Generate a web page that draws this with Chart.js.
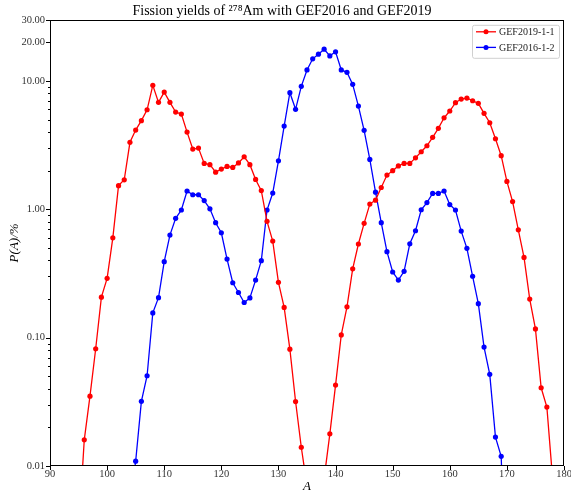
<!DOCTYPE html>
<html>
<head>
<meta charset="utf-8">
<script src="https://cdn.jsdelivr.net/npm/chart.js@4.4.0/dist/chart.umd.min.js"></script>
<style>
  html, body { margin: 0; padding: 0; background: #fff; }
  #wrap { width: 571px; height: 493px; }
</style>
</head>
<body>
<div id="wrap"><canvas id="yieldChart" width="571" height="493"></canvas></div>
<script>
// mass numbers and yields (%)
var massA2019 = [95, 96, 97, 98, 99, 100, 101, 102, 103, 104, 105, 106, 107, 108, 109, 110, 111, 112, 113, 114,
    115, 116, 117, 118, 119, 120, 121, 122, 123, 124, 125, 126, 127, 128, 129, 130, 131, 132, 133, 134,
    135, 136, 137, 138, 139, 140, 141, 142, 143, 144, 145, 146, 147, 148, 149, 150, 151, 152, 153, 154,
    155, 156, 157, 158, 159, 160, 161, 162, 163, 164, 165, 166, 167, 168, 169, 170, 171, 172, 173, 174,
    175, 176, 177, 178];
var yield2019 = [0.003, 0.016, 0.035, 0.082, 0.207, 0.290, 0.60, 1.53, 1.70, 3.33, 4.15, 4.91, 5.97, 9.26, 6.82, 8.20, 6.82, 5.73, 5.53, 4.00,
    2.95, 3.00, 2.28, 2.23, 1.95, 2.06, 2.16, 2.12, 2.30, 2.57, 2.23, 1.71, 1.40, 0.806, 0.566, 0.270, 0.172, 0.0814, 0.0318, 0.0140,
    0.007, 0.004, 0.004, 0.008, 0.0178, 0.0427, 0.105, 0.174, 0.344, 0.537, 0.778, 1.10, 1.18, 1.48, 1.85, 2.00, 2.18, 2.28, 2.28, 2.52,
    2.81, 3.13, 3.64, 4.28, 5.17, 5.84, 6.78, 7.24, 7.37, 7.02, 6.70, 5.60, 4.73, 3.55, 2.62, 1.65, 1.15, 0.693, 0.422, 0.200,
    0.117, 0.0407, 0.0288, 0.008];

var massA2016 = [104, 105, 106, 107, 108, 109, 110, 111, 112, 113, 114, 115, 116, 117, 118, 119, 120, 121, 122, 123,
    124, 125, 126, 127, 128, 129, 130, 131, 132, 133, 134, 135, 136, 137, 138, 139, 140, 141, 142, 143,
    144, 145, 146, 147, 148, 149, 150, 151, 152, 153, 154, 155, 156, 157, 158, 159, 160, 161, 162, 163,
    164, 165, 166, 167, 168, 169, 170];
var yield2016 = [0.005, 0.0109, 0.0319, 0.0505, 0.156, 0.205, 0.391, 0.630, 0.851, 0.988, 1.39, 1.30, 1.30, 1.17, 1.01, 0.787, 0.657, 0.410, 0.268, 0.225,
    0.188, 0.204, 0.281, 0.398, 0.988, 1.34, 2.39, 4.46, 8.11, 6.02, 9.09, 12.2, 14.9, 16.2, 17.7, 15.7, 16.9, 12.2, 11.7, 9.42,
    6.38, 4.13, 2.45, 1.36, 0.787, 0.468, 0.325, 0.281, 0.329, 0.539, 0.681, 0.993, 1.13, 1.33, 1.33, 1.39, 1.09, 0.988, 0.677, 0.497,
    0.301, 0.184, 0.0845, 0.0518, 0.0168, 0.0119, 0.0007];

var seriesLabels = ["GEF2019-1-1", "GEF2016-1-2"];
var xTicks = [90, 100, 110, 120, 130, 140, 150, 160, 170, 180];
var yLabelled = [0.01, 0.1, 1, 10, 20, 30];
var yTickValues = [0.01, 0.02, 0.03, 0.04, 0.05, 0.06, 0.07, 0.08, 0.09,
    0.1, 0.2, 0.3, 0.4, 0.5, 0.6, 0.7, 0.8, 0.9,
    1, 2, 3, 4, 5, 6, 7, 8, 9, 10, 20, 30];

var serif = "'Liberation Serif', 'DejaVu Serif', serif";

function toPoints(xs, ys) {
    return xs.map(function (x, i) { return { x: x, y: ys[i] }; });
}

function isLabelled(v) {
    return yLabelled.some(function (l) { return Math.abs(l - v) < 1e-9; });
}

// frame, outward tick marks and the boxed legend
var decorations = {
    id: 'decorations',
    afterDraw: function (chart) {
        var ctx = chart.ctx;
        var a = chart.chartArea;
        var xs = chart.scales.x, ys = chart.scales.y;
        ctx.save();
        ctx.strokeStyle = '#000';
        ctx.lineWidth = 1;
        ctx.strokeRect(Math.round(a.left) + 0.5, Math.round(a.top) + 0.5,
            Math.round(a.right - a.left) - 1, Math.round(a.bottom - a.top) - 1);

        ctx.beginPath();
        ys.ticks.forEach(function (t) {
            var py = Math.round(ys.getPixelForValue(t.value)) + 0.5;
            var len = isLabelled(t.value) ? 4 : 2;
            ctx.moveTo(a.left, py);
            ctx.lineTo(a.left - len, py);
        });
        xs.ticks.forEach(function (t) {
            var px = Math.round(xs.getPixelForValue(t.value)) + 0.5;
            ctx.moveTo(px, a.bottom);
            ctx.lineTo(px, a.bottom + 4);
        });
        ctx.stroke();

        // legend box
        var bx = a.right - 92, by = a.top + 5, bw = 87, bh = 33;
        ctx.fillStyle = 'rgba(255,255,255,0.8)';
        ctx.strokeStyle = '#d0d0d0';
        ctx.beginPath();
        ctx.roundRect(bx + 0.5, by + 0.5, bw, bh, 2);
        ctx.fill();
        ctx.stroke();
        ctx.font = '10px ' + serif;
        ctx.textBaseline = 'middle';
        ctx.textAlign = 'left';
        chart.data.datasets.forEach(function (ds, i) {
            var ry = by + 7 + i * 15.6;
            ctx.strokeStyle = ds.borderColor;
            ctx.lineWidth = 1.3;
            ctx.beginPath();
            ctx.moveTo(bx + 4, ry);
            ctx.lineTo(bx + 24, ry);
            ctx.stroke();
            ctx.fillStyle = ds.borderColor;
            ctx.beginPath();
            ctx.arc(bx + 14, ry, 2.5, 0, Math.PI * 2);
            ctx.fill();
            ctx.fillStyle = '#222';
            ctx.fillText(ds.label, bx + 27, ry + 0.5);
        });
        ctx.restore();
    }
};

var ctx = document.getElementById('yieldChart').getContext('2d');

var yieldChart = new Chart(ctx, {
    type: 'line',
    data: {
        datasets: [{
            label: seriesLabels[0],
            data: toPoints(massA2019, yield2019),
            borderColor: '#ff0000',
            backgroundColor: '#ff0000',
            borderWidth: 1.3,
            pointRadius: 2.6,
            pointBorderWidth: 0,
            tension: 0
        }, {
            label: seriesLabels[1],
            data: toPoints(massA2016, yield2016),
            borderColor: '#0000ff',
            backgroundColor: '#0000ff',
            borderWidth: 1.3,
            pointRadius: 2.6,
            pointBorderWidth: 0,
            tension: 0
        }]
    },
    options: {
        responsive: false,
        animation: false,
        events: [],
        layout: { padding: { left: 0, right: 7, top: 0, bottom: 0 } },
        plugins: {
            legend: { display: false },
            tooltip: { enabled: false },
            title: {
                display: true,
                text: 'Fission yields of \u00B2\u2077\u2078Am with GEF2016 and GEF2019',
                color: '#000',
                font: { family: serif, size: 14, weight: 'normal', lineHeight: 1.2 },
                padding: { top: 3, bottom: 0 }
            }
        },
        scales: {
            x: {
                type: 'linear',
                min: 90,
                max: 180,
                grid: { display: false, drawTicks: false },
                border: { display: false },
                afterBuildTicks: function (scale) {
                    scale.ticks = xTicks.map(function (v) { return { value: v }; });
                },
                afterFit: function (scale) {
                    scale.height = 27;
                    scale.paddingLeft = 0;
                    scale.paddingRight = 0;
                },
                ticks: {
                    color: '#333',
                    padding: 2,
                    maxRotation: 0,
                    autoSkip: false,
                    font: { family: serif, size: 10.5 },
                    callback: function (v) { return String(v); }
                },
                title: {
                    display: true,
                    text: 'A',
                    color: '#000',
                    padding: { top: 0, bottom: 0 },
                    font: { family: serif, size: 13, style: 'italic', lineHeight: 1 }
                }
            },
            y: {
                type: 'logarithmic',
                min: 0.01,
                max: 30,
                grid: { display: false, drawTicks: false },
                border: { display: false },
                afterBuildTicks: function (scale) {
                    scale.ticks = yTickValues.map(function (v) { return { value: v }; });
                },
                afterFit: function (scale) {
                    scale.width = 50;
                    scale.paddingTop = 0;
                    scale.paddingBottom = 0;
                },
                ticks: {
                    color: '#333',
                    padding: 5,
                    autoSkip: false,
                    font: { family: serif, size: 10.5 },
                    callback: function (v) { return isLabelled(v) ? v.toFixed(2) : ''; }
                },
                title: {
                    display: true,
                    text: 'P(A)/%',
                    color: '#000',
                    padding: { top: 7, bottom: 0 },
                    font: { family: serif, size: 13, style: 'italic', lineHeight: 1.2 }
                }
            }
        }
    },
    plugins: [decorations]
});
</script>
</body>
</html>
